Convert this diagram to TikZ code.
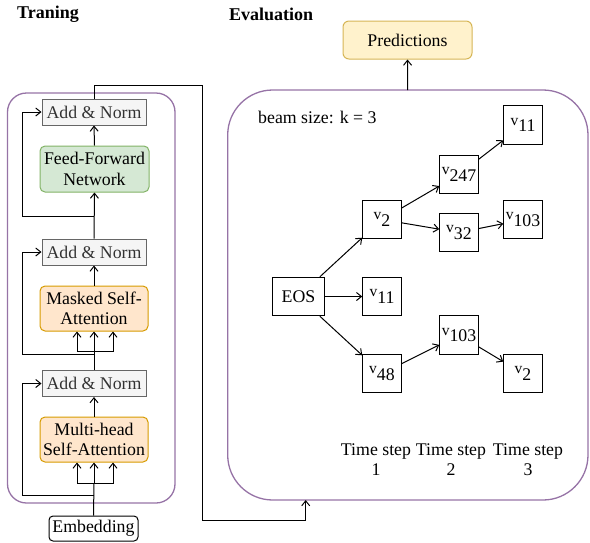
\documentclass[tikz,border=0pt]{standalone}
\usepackage{fontspec}
\setmainfont{Liberation Serif}
\usetikzlibrary{arrows.meta}
\definecolor{panel}{HTML}{9673A6}
\definecolor{normfill}{HTML}{F5F5F5}
\definecolor{normdraw}{HTML}{666666}
\definecolor{normtext}{HTML}{333333}
\definecolor{ffnfill}{HTML}{D5E8D4}
\definecolor{ffndraw}{HTML}{82B366}
\definecolor{attfill}{HTML}{FFE6CC}
\definecolor{attdraw}{HTML}{D79B00}
\definecolor{predfill}{HTML}{FFF2CC}
\definecolor{preddraw}{HTML}{D6B656}
\newcommand\tok[1]{\raisebox{0.36em}{\fontsize{15.5}{16}\selectfont v}#1}
\tikzset{
  every node/.style={font=\fontsize{17.8}{20.5}\selectfont, inner sep=0pt, align=center},
  normbox/.style={draw=normdraw, fill=normfill, text=normtext, line width=1pt, minimum width=104pt, minimum height=26pt},
  ffnbox/.style={draw=ffndraw, fill=ffnfill, line width=1pt, rounded corners=5pt, minimum width=109pt, minimum height=46pt},
  attbox/.style={draw=attdraw, fill=attfill, line width=1pt, rounded corners=5pt, minimum width=108pt, minimum height=45pt},
  tokbox/.style={draw, line width=1pt, minimum width=38.5pt, minimum height=38.5pt},
  panelbox/.style={draw=panel, line width=1.3pt},
  arr/.style={-{Straight Barb[length=5pt,width=8pt]}, line width=1pt},
  wire/.style={line width=1pt},
  title/.style={font=\fontsize{18}{20}\selectfont\bfseries, anchor=west}
}
\begin{document}
\begin{tikzpicture}[x=1pt,y=-1pt]
\useasboundingbox (0,0) rectangle (590,542);

% headings
\node[title] (ttrain) at (17,14) {Traning};
\node[title] (teval) at (229,14) {Evaluation};

% panels
\draw[panelbox, rounded corners=19pt] (7.5,93) rectangle (175,503);
\draw[panelbox, rounded corners=45pt] (227.7,90) rectangle (588,500);
\coordinate (evaltop) at (407.7,90);
\coordinate (evalbot) at (305.7,500);

% decoder stack
\node[normbox] (an3) at (94,112) {Add \& Norm};
\node[ffnbox] (ffn) at (94.5,169) {Feed-Forward\\Network};
\node[normbox] (an2) at (94,252) {Add \& Norm};
\node[attbox] (msa) at (94,308.5) {Masked Self-\\Attention};
\node[normbox] (an1) at (94,383.5) {Add \& Norm};
\node[attbox] (mha) at (94,439.5) {Multi-head\\Self-Attention};
\node[draw, line width=1pt, rounded corners=4pt, minimum width=89pt, minimum height=25pt] (emb) at (93.5,528.5) {Embedding};

% fork points
\coordinate (f0) at (94,483);
\coordinate (f1) at (94,351.7);

% embedding into multi-head attention (three inputs)
\draw[wire] (emb.north) -- (f0);
\draw[arr] (f0) -- (mha.south);
\draw[arr] (f0) -| ([xshift=-17pt]mha.south);
\draw[arr] (f0) -| ([xshift=19pt]mha.south);
% residual around multi-head attention
\draw[arr] (94,495) -- (22.7,495) |- (an1.west);
\draw[arr] (mha.north) -- (an1.south);

% add & norm into masked attention (three inputs)
\draw[wire] (an1.north) -- (f1);
\draw[arr] (f1) -- (msa.south);
\draw[arr] (f1) -| ([xshift=-17pt]msa.south);
\draw[arr] (f1) -| ([xshift=19pt]msa.south);
% residual around masked attention
\draw[arr] (94,354) -- (22.7,354) |- (an2.west);
\draw[arr] (msa.north) -- (an2.south);

% feed-forward block with residual
\draw[arr] (an2.north) -- (ffn.south);
\draw[arr] (94,216) -- (22.7,216) |- (an3.west);
\draw[arr] (ffn.north) -- (an3.south);

% decoder output into evaluation
\draw[arr] (an3.north) -- (94,85) -- (202.5,85) -- (202.5,520) -| (evalbot);

% predictions
\node[draw=preddraw, fill=predfill, line width=1pt, rounded corners=6pt, minimum width=129pt, minimum height=38pt] (pred) at (407.5,40) {Predictions};
\draw[arr] (evaltop) -- (pred.south);

% beam search tree
\node[anchor=west] (beam) at (258,117) {beam size: k = 3};
\node[draw, line width=1pt, minimum width=51.6pt, minimum height=38.4pt] (eos) at (298.5,296.5) {EOS};
\node[tokbox] (a2) at (382,219.5) {\tok{2}};
\node[tokbox] (a11) at (382,296.5) {\tok{11}};
\node[tokbox] (a48) at (382,373.5) {\tok{48}};
\node[tokbox] (b247) at (459,174.5) {\tok{247}};
\node[tokbox] (b32) at (459,232.5) {\tok{32}};
\node[tokbox] (b103) at (459,335) {\tok{103}};
\node[tokbox] (c11) at (523,125) {\tok{11}};
\node[tokbox] (c103) at (523,219.7) {\tok{103}};
\node[tokbox] (c2) at (523,373.5) {\tok{2}};

\draw[arr] (eos) -- (a2);
\draw[arr] (eos) -- (a11);
\draw[arr] (eos) -- (a48);
\draw[arr] (a2) -- (b247);
\draw[arr] (a2) -- (b32);
\draw[arr] (a48) -- (b103);
\draw[arr] (b247) -- (c11);
\draw[arr] (b32) -- (c103);
\draw[arr] (b103) -- (c2);

% time step labels
\node (ts1) at (376,459.5) {Time step\\1};
\node (ts2) at (451,459.5) {Time step\\2};
\node (ts3) at (528,459.5) {Time step\\3};
\end{tikzpicture}
\end{document}
